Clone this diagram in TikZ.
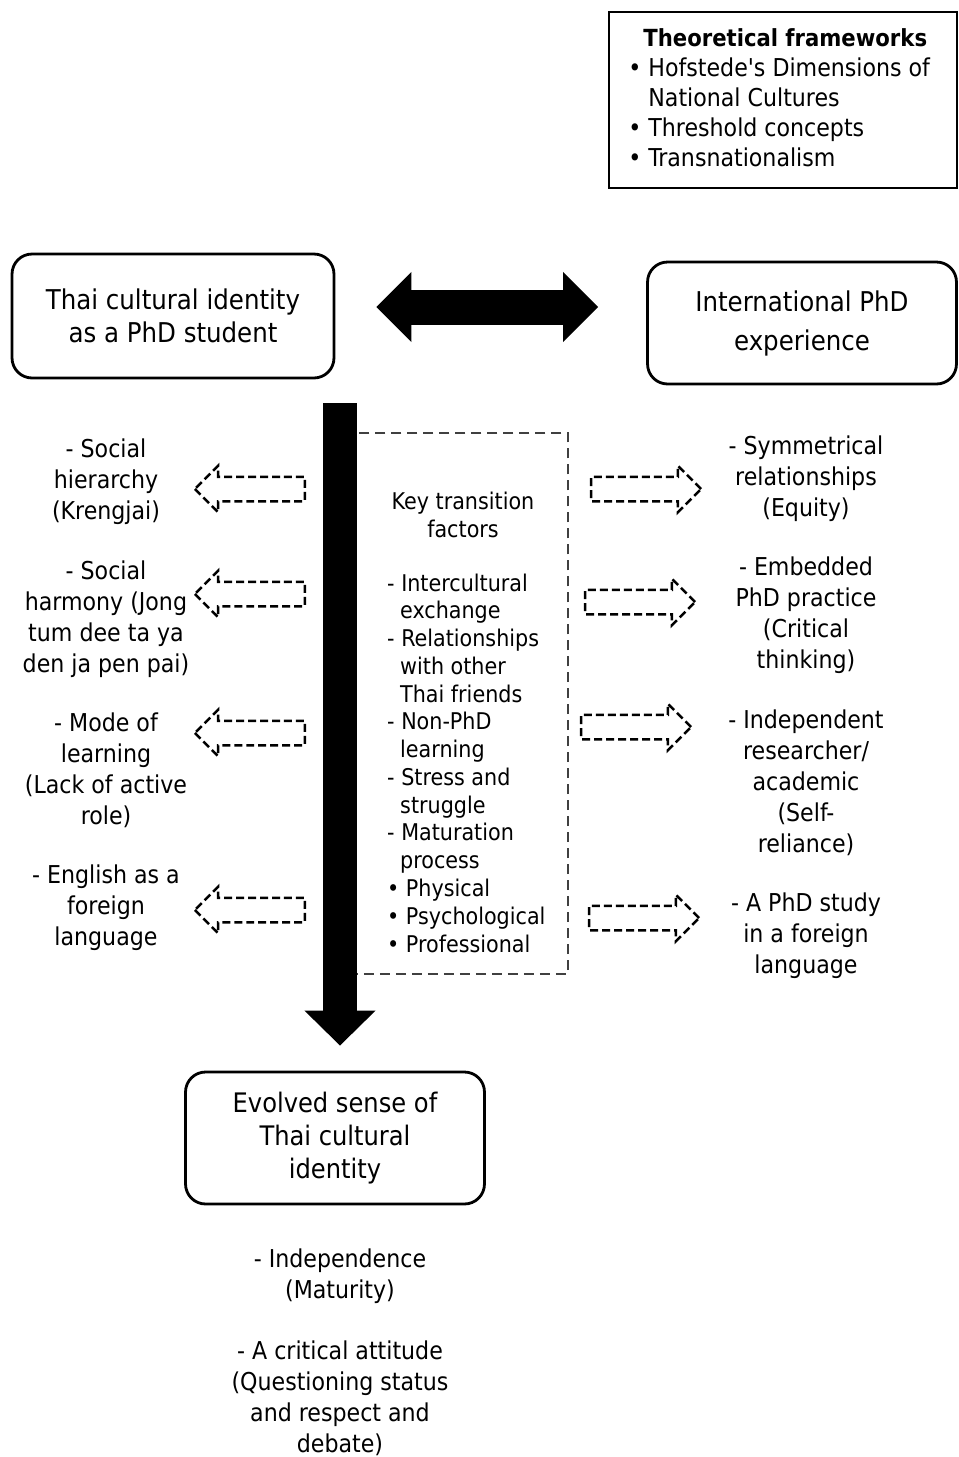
\documentclass[tikz,border=0pt]{standalone}
\usepackage{fontspec}
\setmainfont{DejaVu Sans Condensed}
\usetikzlibrary{arrows.meta,shapes.arrows,positioning}
\tikzset{box/.style = {draw, line width=1.6pt, rounded corners=0.4cm, align=center},
         sidetext/.style = {align=center, font=\fontsize{14}{17.6}\selectfont},
         keytext/.style = {font=\fontsize{13.1}{15.8}\selectfont},
         outarrow/.style = {single arrow, draw, line width=0.05cm, dash pattern=on 0.16cm off 0.08cm,
                            inner xsep=0pt, inner ysep=0.22cm, single arrow head extend=0.22cm,
                            minimum height=2.2cm},
         inarrow/.style = {outarrow, shape border rotate=180}}

\begin{document}
\begin{tikzpicture}[x=0.02cm, y=-0.02cm]
                    \useasboundingbox (0,0) rectangle (959,1457);

                    % Frameworks box
                    \node[draw, line width=1.6pt, minimum width=6.96cm, minimum height=3.52cm] (frame) at (783,100) {};
                    \node[align=left, anchor=north west, font=\fontsize{14}{17.1}\selectfont, inner sep=0pt] (theory) at (628,28)
                         {\hspace*{0.3cm}{\fontsize{13.4}{17.1}\selectfont\textbf{Theoretical frameworks}}\\
                          • Hofstede\textquotesingle s Dimensions of\\
                          \phantom{• }National Cultures\\
                          • Threshold concepts\\
                          • Transnationalism};

                    % Main boxes
                    \node[box, minimum width=6.44cm, minimum height=2.48cm, font=\fontsize{15.5}{18.8}\selectfont] (A) at (173,316)
                         {Thai cultural identity\\as a PhD student};
                    \node[box, minimum width=6.18cm, minimum height=2.44cm, font=\fontsize{15.5}{22.2}\selectfont] (B) at (802,323)
                         {International PhD\\experience};
                    \node[box, minimum width=5.98cm, minimum height=2.64cm, font=\fontsize{15.3}{18.8}\selectfont] (C) at (335,1138)
                         {Evolved sense of\\Thai cultural\\identity};

                    % Double arrow between the two identities
                    \coordinate (mid) at (487,307);
                    \draw[line width=0.7cm, {Triangle[length=0.7cm, width=1.36cm]}-{Triangle[length=0.7cm, width=1.36cm]},
                          shorten <=0.82cm, shorten >=0.96cm] (A.east |- mid) -- (B.west |- mid);

                    % Key transition factors
                    \draw[line width=0.8pt, black!75, dash pattern=on 0.2cm off 0.12cm] (345,433) rectangle (568,974);
                    \node[keytext, align=center] (key) at (463,515) {Key transition\\factors};
                    \node[keytext, align=left, anchor=west] (factors) at (381,763)
                         {- Intercultural\\
                          \hspace*{0.26cm}exchange\\
                          - Relationships\\
                          \hspace*{0.26cm}with other\\
                          \hspace*{0.26cm}Thai friends\\
                          - Non-PhD\\
                          \hspace*{0.26cm}learning\\
                          - Stress and\\
                          \hspace*{0.26cm}struggle\\
                          - Maturation\\
                          \hspace*{0.26cm}process\\
                          • Physical\\
                          • Psychological\\
                          • Professional};

                    % Thick path down to the evolved identity
                    \coordinate (flowtop) at (340,403);
                    \draw[line width=0.68cm, -{Triangle[length=0.7cm, width=1.38cm]}, shorten >=0.5cm]
                          (flowtop) -- (flowtop |- C.north);

                    % Thai side
                    \node[sidetext] (hier) at (106,482) {- Social\\hierarchy\\(Krengjai)};
                    \node[sidetext] (harm) at (106,619) {- Social\\harmony (Jong\\tum dee ta ya\\den ja pen pai)};
                    \node[sidetext] (mode) at (106,770) {- Mode of\\learning\\(Lack of active\\role)};
                    \node[sidetext] (engl) at (106,908) {- English as a\\foreign\\language};
                    \foreach \n/\y in {l1/489, l2/594, l3/733, l4/910}
                        \node[inarrow] (\n) at (256,\y) {};

                    % PhD side
                    \node[sidetext] (symm) at (806,479) {- Symmetrical\\relationships\\(Equity)};
                    \node[sidetext] (embd) at (806,615) {- Embedded\\PhD practice\\(Critical\\thinking)};
                    \node[sidetext] (inde) at (806,783) {- Independent\\researcher/\\academic\\(Self-\\reliance)};
                    \node[sidetext] (forg) at (806,936) {- A PhD study\\in a foreign\\language};
                    \foreach \n/\x/\y in {r1/640/489, r2/634/602, r3/630/727, r4/638/918}
                        \node[outarrow] (\n) at (\x,\y) {};

                    % Outcomes
                    \node[sidetext] (matu) at (340,1276) {- Independence\\(Maturity)};
                    \node[sidetext] (crit) at (340,1398) {- A critical attitude\\(Questioning status\\and respect and\\debate)};
\end{tikzpicture}
\end{document}
